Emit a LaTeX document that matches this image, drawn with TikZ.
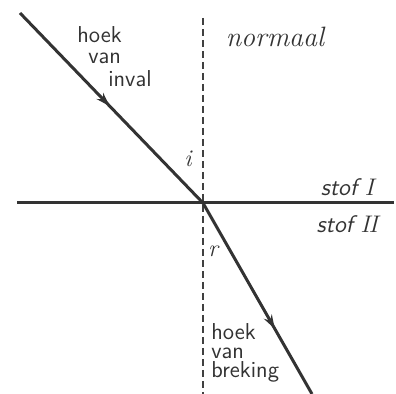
\documentclass[tikz,border=0pt]{standalone}
\usepackage{amsmath, amssymb}
\usepackage{tikz}
\usetikzlibrary{arrows.meta, positioning, calc, decorations.markings}
\usepackage{xcolor}

\tikzset{
  ray/.style={line width=1.5pt, draw=black!80},
  midarrow/.style={postaction={decorate}, decoration={markings,
      mark=at position #1 with {\arrow{Stealth[length=7pt, width=4.5pt]}}}},
  hand/.style={font=\sffamily\fontsize{11.5}{9.6}\selectfont, text=black!80, inner sep=0pt},
  stof/.style={font=\sffamily\itshape\fontsize{12}{13}\selectfont, text=black!80, inner sep=0pt},
}

\begin{document}
\begin{tikzpicture}[x=0.5pt, y=-0.5pt, >=Stealth]
  \useasboundingbox (0, 0) rectangle (396, 394);

  \coordinate (O) at (203, 203);
  \coordinate (Bron) at (20, 13);
  \coordinate (Eind) at (312, 394);
  \coordinate (L) at (17, 203);
  \coordinate (R) at (394, 203);
  \coordinate (Ntop) at (203, 18);
  \coordinate (Nbot) at (203, 394);

  % normaal
  \draw[black!75, line width=0.6pt, dash pattern=on 3.5pt off 2pt] (Ntop) -- (Nbot);
  % grensvlak
  \draw[ray] (L) -- (R);
  % invallende en gebroken straal
  \draw[ray, midarrow=0.49] (Bron) -- (O);
  \draw[ray, midarrow=0.66] (O) -- (Eind);

  \node[font=\itshape\fontsize{14}{15}\selectfont, text=black!80] (normaal) at (275, 37) {normaal};
  \node[stof] (stofI) at (349, 187) {stof $I$};
  \node[stof] (stofII) at (349, 224) {stof $I\!I$};

  \node[hand, anchor=west] (hoek1) at (77, 35) {hoek};
  \node[hand, anchor=west] (van1) at (88, 58) {van};
  \node[hand, anchor=west] (inval) at (108, 79) {inval};

  \node[hand, anchor=north west, align=left] (breking) at (211, 323) {hoek\\van\\breking};

  \node[font=\itshape\fontsize{12}{13}\selectfont, text=black!80] (i) at (188, 159) {i};
  \node[font=\itshape\fontsize{12}{13}\selectfont, text=black!80] (r) at (213, 251) {r};
\end{tikzpicture}
\end{document}
